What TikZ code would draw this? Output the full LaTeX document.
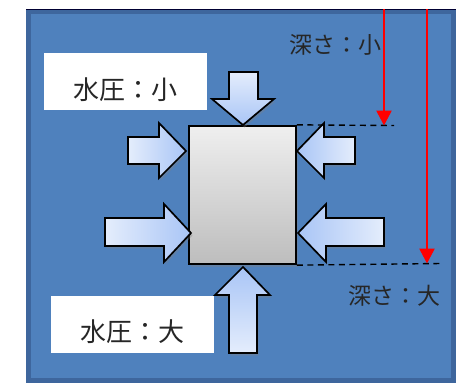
\documentclass[tikz,border=0pt]{standalone}
\usepackage{fontspec}
\newfontfamily\jp{Noto Sans CJK JP}
\usetikzlibrary{arrows.meta,shadows}
\definecolor{bgblue}{HTML}{4F81BD}
\definecolor{bordblue}{HTML}{3E669D}
\definecolor{arrlight}{HTML}{E4EDFC}
\definecolor{arrdark}{HTML}{A9C5F6}
\definecolor{boxtop}{HTML}{EFEFEF}
\definecolor{boxbot}{HTML}{BDBDBD}
\definecolor{redarr}{HTML}{FF0000}
\tikzset{
  pushshape/.style={draw=black, line width=1.7pt, line join=miter,
    drop shadow={opacity=0.35, shadow xshift=1.5pt, shadow yshift=-2.5pt}},
  blockbox/.style={draw=black, line width=1.8pt, top color=boxtop, bottom color=boxbot,
    minimum width=107pt, minimum height=138.5pt, inner sep=0pt,
    drop shadow={opacity=0.35, shadow xshift=1.5pt, shadow yshift=-2.5pt}},
  labelbox/.style={fill=white, draw=none, minimum width=163pt, minimum height=57pt, inner sep=0pt, anchor=north west},
  labeltext/.style={font=\jp\fontsize{26}{26}\selectfont, text=black!85, inner sep=0pt},
  depthtext/.style={font=\jp\fontsize{23}{23}\selectfont, text=black!85, inner sep=0pt},
  deptharrow/.style={draw=redarr, line width=2.6pt, -{Triangle[length=15pt,width=15pt]}},
  levelline/.style={draw=black, line width=1.4pt, dash pattern=on 6pt off 4.5pt},
}
\begin{document}
\begin{tikzpicture}[x=1pt,y=-1pt]
\useasboundingbox (0,0) rectangle (458,383);
\fill[white] (0,0) rectangle (458,383);
% water
\draw[line width=5pt, draw=bordblue, fill=bgblue] (28.5,11.5) rectangle (453.5,380.5);
\draw[line width=1.4pt, draw=black!80!blue] (26,9.6) -- (456,9.6);
% object
\node[blockbox] (blk) at (242.5,195) {};
% pressure arrows
\path[pushshape, top color=arrlight, bottom color=arrdark]
  (229,72) -- (258,72) -- (258,99) -- (274,99) -- (243,125) -- (212,99) -- (229,99) -- cycle;
\path[pushshape, top color=arrdark, bottom color=arrlight]
  (229,353) -- (257,353) -- (257,295) -- (270,295) -- (243,267) -- (215,295) -- (229,295) -- cycle;
\path[pushshape, left color=arrlight, right color=arrdark]
  (128,137) -- (159,137) -- (159,123) -- (186,151) -- (159,178) -- (159,164) -- (128,164) -- cycle;
\path[pushshape, left color=arrdark, right color=arrlight]
  (355,137) -- (324,137) -- (324,123) -- (297,151) -- (324,178) -- (324,164) -- (355,164) -- cycle;
\path[pushshape, left color=arrlight, right color=arrdark]
  (105,218) -- (164,218) -- (164,204) -- (191,233) -- (164,262) -- (164,246) -- (105,246) -- cycle;
\path[pushshape, left color=arrdark, right color=arrlight]
  (384,218) -- (326,218) -- (326,204) -- (298,233) -- (326,262) -- (326,246) -- (384,246) -- cycle;
% labels
\node[labelbox] (lowbox) at (44,53) {};
\node[labeltext] (lowtxt) at (125,90) {水圧：小};
\node[labelbox] (highbox) at (51,296) {};
\node[labeltext] (hightxt) at (132,332) {水圧：大};
\node[depthtext] (dsmall) at (335,45) {深さ：小};
\node[depthtext] (dlarge) at (394,296) {深さ：大};
% depth markers
\coordinate (s1) at (384,9);
\coordinate (e1) at (384,125.5);
\coordinate (s2) at (427,9);
\coordinate (e2) at (427,263.5);
\coordinate (d1) at (394,125.5);
\coordinate (d2) at (441,263.5);
\draw[levelline] (blk.north east) -- (d1);
\draw[levelline] (blk.south east) -- (d2);
\draw[deptharrow] (s1) -- (e1);
\draw[deptharrow] (s2) -- (e2);
\end{tikzpicture}
\end{document}
